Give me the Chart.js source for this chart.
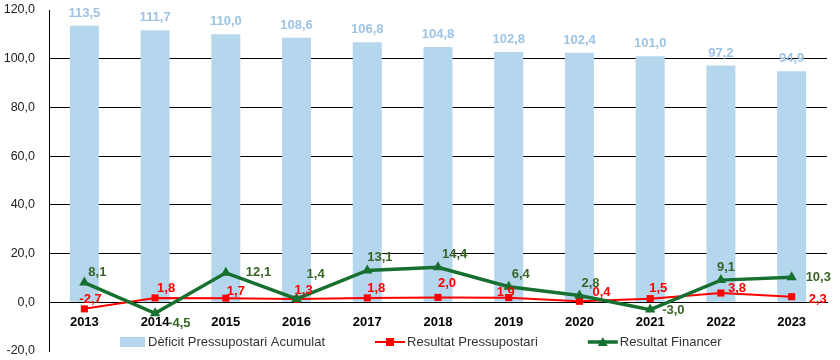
<!DOCTYPE html>
<html>
<head>
<meta charset="utf-8">
<script src="https://cdn.jsdelivr.net/npm/chart.js@4"></script>
<style>
  html, body { margin: 0; padding: 0; background: #fff; }
  #wrap { width: 840px; height: 360px; }
</style>
</head>
<body>
<div id="wrap"><canvas id="chart" width="840" height="360"></canvas></div>
<script>
const years = ['2013', '2014', '2015', '2016', '2017', '2018', '2019', '2020', '2021', '2022', '2023'];
const deficitAcumulat = [113.5, 111.7, 110.0, 108.6, 106.8, 104.8, 102.8, 102.4, 101.0, 97.2, 94.9];
const resultatPressupostari = [-2.7, 1.8, 1.7, 1.3, 1.8, 2.0, 1.9, 0.4, 1.5, 3.8, 2.3];
const resultatFinancer = [8.1, -4.5, 12.1, 1.4, 13.1, 14.4, 6.4, 2.8, -3.0, 9.1, 10.3];
const yMin = -20, yMax = 120, yStep = 20;

// label nudges (left edge / vertical centre relative to the point), like the hand placed ones in the original
const redLabelShift = [[-5, -9], [2, -9], [1, -7], [-2, -9], [0, -9], [0, -14], [-12, -5], [13, -9], [-1, -10], [7, -5], [17, 3]];
const greenLabelShift = [[4, -10], [13, 10], [20, 0], [10, -24], [0, -13], [4, -13], [3, -12], [2, -12], [12, 1], [-4, -13], [14, 0]];

const FONT = '"Liberation Sans", Arial, sans-serif';
const barColor = '#B4D7EE';
const barLabelColor = '#9DC3E6';
const red = '#FF0000';
const green = '#17702F';
const greenText = '#3A6426';

const fmt = v => v.toFixed(1).replace('.', ',');

const labelsPlugin = {
  id: 'valueLabels',
  afterDatasetsDraw(chart) {
    const ctx = chart.ctx;
    ctx.save();
    ctx.font = 'bold 13px ' + FONT;
    chart.data.datasets.forEach((ds, di) => {
      const meta = chart.getDatasetMeta(di);
      meta.data.forEach((el, i) => {
        const txt = fmt(ds.data[i]);
        if (ds.type === 'bar') {
          ctx.fillStyle = barLabelColor;
          ctx.textAlign = 'center';
          ctx.textBaseline = 'bottom';
          ctx.fillText(txt, el.x, el.y - 6);
        } else {
          const sh = ds.labelShift[i];
          ctx.fillStyle = ds.labelColor;
          ctx.textAlign = 'left';
          ctx.textBaseline = 'middle';
          ctx.fillText(txt, el.x + sh[0], el.y + sh[1]);
        }
      });
    });
    ctx.restore();
  }
};

const legendPlugin = {
  id: 'bottomLegend',
  afterDraw(chart) {
    const ctx = chart.ctx;
    const y = 342;
    let x = 120;
    ctx.save();
    ctx.font = '13px ' + FONT;
    ctx.textBaseline = 'middle';
    ctx.textAlign = 'left';
    chart.data.datasets.forEach((ds, di) => {
      if (ds.type === 'bar') {
        ctx.fillStyle = barColor;
        ctx.fillRect(x, y - 5, 25, 10);
        x += 28;
      } else {
        ctx.strokeStyle = ds.borderColor;
        ctx.lineWidth = ds.borderWidth;
        ctx.beginPath();
        ctx.moveTo(x, y);
        ctx.lineTo(x + 30, y);
        ctx.stroke();
        ctx.fillStyle = ds.borderColor;
        if (ds.pointStyle === 'rect') {
          ctx.fillRect(x + 11, y - 4, 8, 8);
        } else {
          ctx.beginPath();
          ctx.moveTo(x + 15, y - 5);
          ctx.lineTo(x + 20, y + 4);
          ctx.lineTo(x + 10, y + 4);
          ctx.closePath();
          ctx.fill();
        }
        x += 32;
      }
      ctx.fillStyle = '#333';
      ctx.fillText(ds.label, x, y);
      x += ctx.measureText(ds.label).width + 50;
    });
    ctx.restore();
  }
};

new Chart(document.getElementById('chart'), {
  data: {
    labels: years,
    datasets: [
      {
        type: 'bar',
        label: 'Dèficit Pressupostari Acumulat',
        data: deficitAcumulat,
        backgroundColor: barColor,
        barPercentage: 0.41,
        categoryPercentage: 1,
        order: 3
      },
      {
        type: 'line',
        label: 'Resultat Pressupostari',
        data: resultatPressupostari,
        borderColor: red,
        backgroundColor: red,
        borderWidth: 2,
        pointStyle: 'rect',
        pointRadius: 5,
        pointBorderWidth: 0,
        tension: 0,
        labelColor: red,
        labelShift: redLabelShift,
        order: 2
      },
      {
        type: 'line',
        label: 'Resultat Financer',
        data: resultatFinancer,
        borderColor: green,
        backgroundColor: green,
        borderWidth: 3.5,
        pointStyle: 'triangle',
        pointRadius: 6,
        pointBorderWidth: 0,
        tension: 0,
        labelColor: greenText,
        labelShift: greenLabelShift,
        order: 1
      }
    ]
  },
  options: {
    responsive: false,
    animation: false,
    layout: { padding: { left: 0, right: 13, top: 10, bottom: 9 } },
    plugins: {
      legend: { display: false },
      tooltip: { enabled: false }
    },
    scales: {
      x: {
        type: 'category',
        position: { y: 0 },
        grid: { display: false, drawTicks: false },
        border: { display: true, color: '#000', width: 1 },
        ticks: {
          color: '#000',
          padding: 12,
          font: { family: FONT, size: 13, weight: 'bold' }
        }
      },
      y: {
        min: yMin,
        max: yMax,
        afterFit(scale) { scale.width = 49; },
        ticks: {
          stepSize: yStep,
          color: '#222',
          padding: 0,
          font: { family: FONT, size: 12.5 },
          callback: v => fmt(v)
        },
        grid: {
          drawTicks: true,
          tickLength: 14,
          tickColor: 'rgba(0,0,0,0)',
          color: c => (c.tick && (c.tick.value === yMax || c.tick.value === yMin)) ? 'rgba(0,0,0,0)' : '#000',
          lineWidth: 1
        },
        border: { display: true, color: '#000', width: 1 }
      }
    }
  },
  plugins: [labelsPlugin, legendPlugin]
});
</script>
</body>
</html>
